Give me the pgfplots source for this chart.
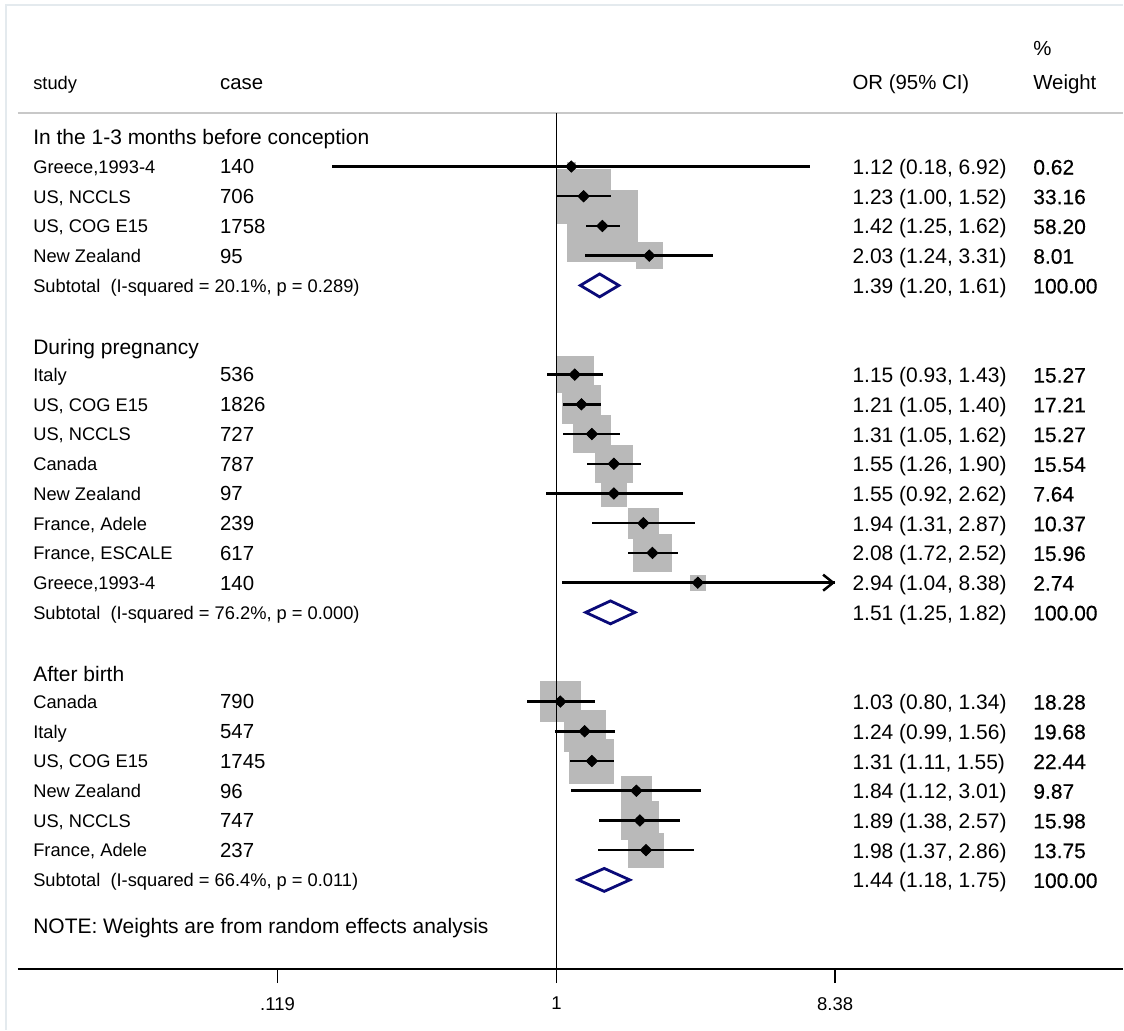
\documentclass[border=0pt]{standalone}
\usepackage{pgfplots}
\pgfplotsset{compat=1.18}
\usepackage{pgfplotstable}
\usetikzlibrary{arrows.meta}
\usepackage{fontspec}
\setmainfont{Liberation Sans}
\newfontfamily\wtfont{Liberation Sans}[FakeBold=0.4]

\definecolor{boxgray}{RGB}{185,185,185}
\definecolor{navyd}{RGB}{10,10,120}
\definecolor{framec}{RGB}{228,234,238}
\definecolor{sepgray}{RGB}{200,200,200}

\newcommand\fLab{\fontsize{9.15}{11}\selectfont}
\newcommand\fCase{\fontsize{10.2}{12}\selectfont}
\newcommand\fCI{\fontsize{10.5}{12.5}\selectfont}

% column positions (x in log-odds units)
\def\xS{-3.994}
\def\xC{-2.569}
\def\xCI{2.256}
\def\xW{3.635}

% study estimates: row, OR, lower, upper, % weight
\pgfplotstableread{
row or   lo   hi   w
1   1.12 0.18 6.92 0.62
2   1.23 1.00 1.52 33.16
3   1.42 1.25 1.62 58.20
4   2.03 1.24 3.31 8.01
8   1.15 0.93 1.43 15.27
9   1.21 1.05 1.40 17.21
10  1.31 1.05 1.62 15.27
11  1.55 1.26 1.90 15.54
12  1.55 0.92 2.62 7.64
13  1.94 1.31 2.87 10.37
14  2.08 1.72 2.52 15.96
15  2.94 1.04 8.38 2.74
19  1.03 0.80 1.34 18.28
20  1.24 0.99 1.56 19.68
21  1.31 1.11 1.55 22.44
22  1.84 1.12 3.01 9.87
23  1.89 1.38 2.57 15.98
24  1.98 1.37 2.86 13.75
}\studies

\tikzset{
  lbl/.style={anchor=base west, inner sep=0pt, font=\fLab, yshift=-3.4pt},
  cse/.style={anchor=base west, inner sep=0pt, font=\fCase, yshift=-3.7pt},
  cit/.style={anchor=base west, inner sep=0pt, font=\fCI, yshift=-4.0pt},
  wtt/.style={anchor=base west, inner sep=0pt, font=\fCI\wtfont, yshift=-4.0pt},
  grp/.style={anchor=base west, inner sep=0pt, font=\fCI},
}

% one text row: row, study, cases, OR (CI), weight
\newcommand\srow[5]{%
  \node[lbl] at (axis cs:\xS,-#1) {#2};
  \node[cse] at (axis cs:\xC,-#1) {#3};
  \node[cit] at (axis cs:\xCI,-#1) {#4};
  \node[wtt] at (axis cs:\xW,-#1) {#5};
}
% subtotal text row: row, heterogeneity text, OR (CI)
\newcommand\subrow[3]{%
  \node[lbl] at (axis cs:\xS,-#1) {Subtotal\ \ (#2)};
  \node[cit] at (axis cs:\xCI,-#1) {#3};
  \node[wtt] at (axis cs:\xW,-#1) {100.00};
}
% pooled estimate diamond: OR, lower, upper, row
\newcommand\pooled[4]{%
  \addplot[draw=navyd, line width=1.4pt, fill=white, line join=miter]
    table[x expr=ln(\thisrow{x}), y expr=-(\thisrow{r}+\thisrow{d}), row sep=\\]
    {x r d\\ #2 #4 0\\ #1 #4 -0.386\\ #3 #4 0\\ #1 #4 0.386\\} -- cycle;
}

\begin{document}
\begin{tikzpicture}
\begin{axis}[
  set layers,
  scale only axis, width=553pt, height=476pt,
  xmin=-4.108, xmax=4.322, ymin=-28, ymax=4,
  axis x line=bottom, axis y line=none,
  x axis line style={-, line width=1pt, black},
  xtick={-2.128,0,2.126}, xticklabels={.119,1,8.38},
  tick align=outside, major tick length=7pt,
  xtick style={line width=0.8pt, black},
  xticklabel style={font=\fontsize{9.25}{11}\selectfont, yshift=-3.5pt},
  ytick=\empty,
  clip=false,
]
% page extent and outer frame
\path (axis cs:-4.245,4.603) rectangle (axis cs:4.322,-30.04);
\draw[framec, line width=1pt] (axis cs:-4.2,-30.04) -- (axis cs:-4.2,4.435) -- (axis cs:4.322,4.435);
\draw[sepgray, line width=1pt] (axis cs:-4.108,0.806) -- (axis cs:4.322,0.806);

% weight boxes, kept behind everything else
\addplot[on layer=axis background, mark layer=axis background,
  scatter, only marks, mark=square*,
  scatter/use mapped color={draw=boxgray, fill=boxgray},
  visualization depends on={2.325*sqrt(\thisrow{w}) \as \halfside},
  scatter/@pre marker code/.append style={/tikz/mark size=\halfside}]
  table[x expr=ln(\thisrow{or}), y expr=-\thisrow{row}] {\studies};

% line of no effect
\draw[black, line width=0.7pt] (axis cs:0,0.806) -- (axis cs:0,-28);

% confidence intervals
\addplot[only marks, mark=none,
  error bars/.cd, x dir=both, x explicit, error mark=none,
  error bar style={line width=1.25pt, black}]
  table[x expr=ln(\thisrow{or}), y expr=-\thisrow{row},
        x error plus expr=ln(\thisrow{hi})-ln(\thisrow{or}),
        x error minus expr=ln(\thisrow{or})-ln(\thisrow{lo})] {\studies};
\addplot[line width=1.25pt, black, -{Straight Barb[length=5pt, width=8pt]}]
  table[x expr=ln(\thisrow{x}), y expr=-\thisrow{r}, row sep=\\]
  {x r\\ 2.94 15\\ 8.38 15\\};

% point estimates
\addplot[only marks, mark=square*, mark size=2pt,
  mark options={rotate=45, draw=black, fill=black}]
  table[x expr=ln(\thisrow{or}), y expr=-\thisrow{row}] {\studies};

% pooled estimates
\pooled{1.39}{1.20}{1.61}{5}
\pooled{1.51}{1.25}{1.82}{16}
\pooled{1.44}{1.18}{1.75}{25}

% column headers
\node[anchor=base west, inner sep=0pt, font=\fLab] at (axis cs:\xS,1.60) {study};
\node[anchor=base west, inner sep=0pt, font=\fCase] at (axis cs:\xC,1.60) {case};
\node[anchor=base west, inner sep=0pt, font=\fCase] at (axis cs:\xCI,1.60) {OR (95\% CI)};
\node[anchor=base west, inner sep=0pt, font=\fCase] at (axis cs:\xW,1.60) {Weight};
\node[anchor=base west, inner sep=0pt, font=\fCase] at (axis cs:\xW,2.72) {\%};

% group 1
\node[grp] at (axis cs:\xS,-0.25) {In the 1-3 months before conception};
\srow{1}{Greece,1993-4}{140}{1.12 (0.18, 6.92)}{0.62}
\srow{2}{US, NCCLS}{706}{1.23 (1.00, 1.52)}{33.16}
\srow{3}{US, COG E15}{1758}{1.42 (1.25, 1.62)}{58.20}
\srow{4}{New Zealand}{95}{2.03 (1.24, 3.31)}{8.01}
\subrow{5}{I-squared = 20.1\%, p = 0.289}{1.39 (1.20, 1.61)}

% group 2
\node[grp] at (axis cs:\xS,-7.31) {During pregnancy};
\srow{8}{Italy}{536}{1.15 (0.93, 1.43)}{15.27}
\srow{9}{US, COG E15}{1826}{1.21 (1.05, 1.40)}{17.21}
\srow{10}{US, NCCLS}{727}{1.31 (1.05, 1.62)}{15.27}
\srow{11}{Canada}{787}{1.55 (1.26, 1.90)}{15.54}
\srow{12}{New Zealand}{97}{1.55 (0.92, 2.62)}{7.64}
\srow{13}{France, Adele}{239}{1.94 (1.31, 2.87)}{10.37}
\srow{14}{France, ESCALE}{617}{2.08 (1.72, 2.52)}{15.96}
\srow{15}{Greece,1993-4}{140}{2.94 (1.04, 8.38)}{2.74}
\subrow{16}{I-squared = 76.2\%, p = 0.000}{1.51 (1.25, 1.82)}

% group 3
\node[grp] at (axis cs:\xS,-18.33) {After birth};
\srow{19}{Canada}{790}{1.03 (0.80, 1.34)}{18.28}
\srow{20}{Italy}{547}{1.24 (0.99, 1.56)}{19.68}
\srow{21}{US, COG E15}{1745}{1.31 (1.11, 1.55)}{22.44}
\srow{22}{New Zealand}{96}{1.84 (1.12, 3.01)}{9.87}
\srow{23}{US, NCCLS}{747}{1.89 (1.38, 2.57)}{15.98}
\srow{24}{France, Adele}{237}{1.98 (1.37, 2.86)}{13.75}
\subrow{25}{I-squared = 66.4\%, p = 0.011}{1.44 (1.18, 1.75)}

\node[grp] at (axis cs:\xS,-26.8) {NOTE: Weights are from random effects analysis};
\end{axis}
\end{tikzpicture}
\end{document}
